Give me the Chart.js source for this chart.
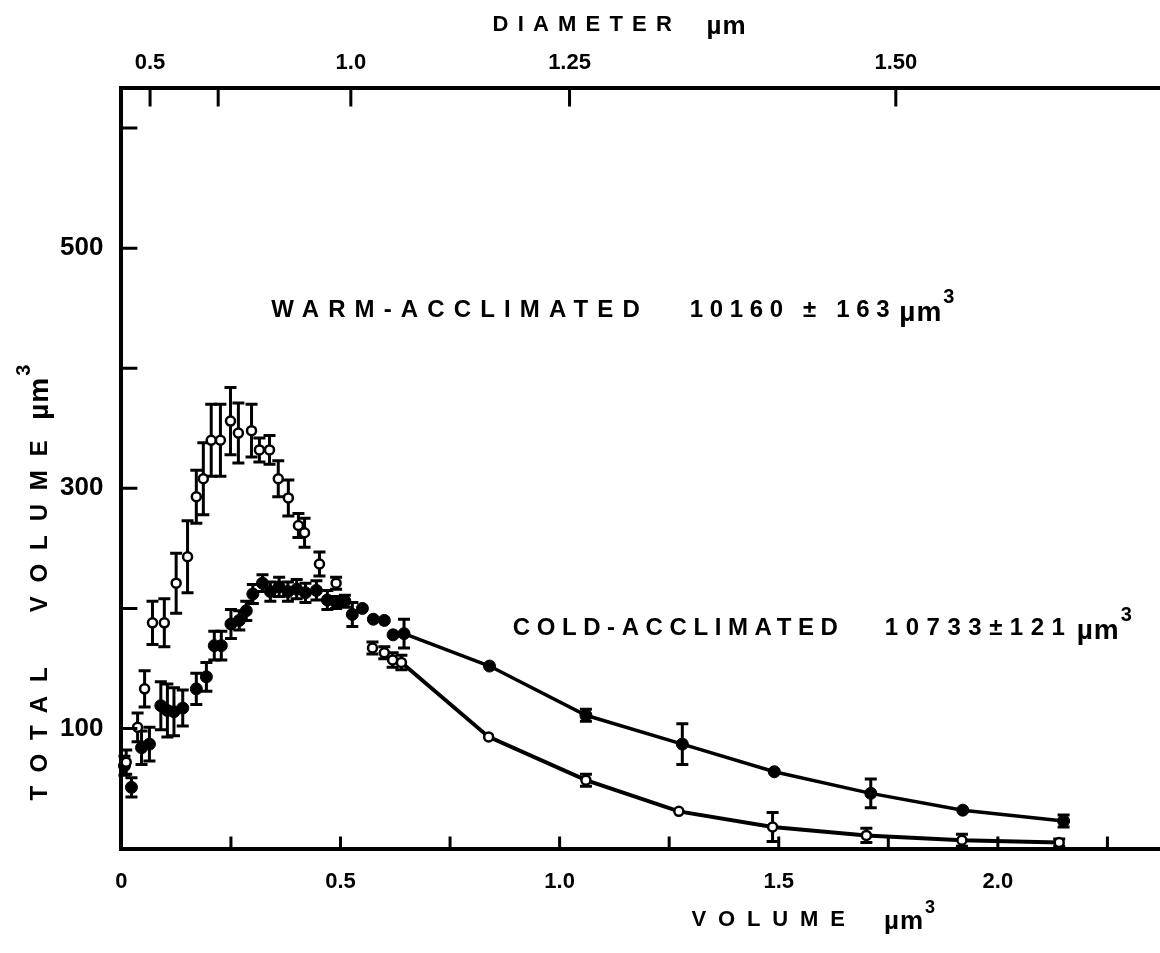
<!DOCTYPE html>
<html>
<head>
<meta charset="utf-8">
<script src="https://cdn.jsdelivr.net/npm/chart.js@4/dist/chart.umd.min.js"></script>
<style>
  html, body { margin: 0; padding: 0; background: #fff; overflow: hidden; }
  #clip { width: 1160px; height: 953px; overflow: hidden; position: relative; }
  #wrap { width: 1180px; height: 953px; position: relative; }
</style>
</head>
<body>
<div id="clip"><div id="wrap"><canvas id="chart"></canvas></div></div>
<script>
// warm-acclimated (open circles): volume µm3, total volume, error
const warmX = [0.011, 0.037, 0.053, 0.071, 0.098, 0.125, 0.151, 0.171, 0.187, 0.205, 0.226, 0.249, 0.267, 0.297,
  0.315, 0.338, 0.358, 0.381, 0.404, 0.418, 0.452, 0.49, 0.573, 0.60, 0.619, 0.639, 0.838, 1.06, 1.272, 1.486, 1.70, 1.918, 2.14]
const warmY = [72, 101, 133, 188, 188, 221, 243, 293, 308, 340, 340, 356, 346, 348,
  332, 332, 308, 292, 269, 263, 237, 221, 167, 163, 157, 155, 93, 57, 31, 18, 11, 7, 5]
const warmErr = [10, 12, 15, 18, 20, 25, 30, 22, 30, 30, 30, 28, 25, 22,
  10, 12, 15, 15, 10, 12, 10, 5, 5, 5, 6, 6, 0, 5, 0, 12, 6, 5, 3]

// cold-acclimated (filled circles)
const coldX = [0.007, 0.023, 0.046, 0.064, 0.09, 0.105, 0.12, 0.14, 0.171, 0.194, 0.212, 0.228, 0.25, 0.269, 0.285,
  0.30, 0.322, 0.34, 0.36, 0.38, 0.40, 0.42, 0.445, 0.47, 0.49, 0.51, 0.527, 0.55, 0.575, 0.60, 0.62, 0.645,
  0.84, 1.06, 1.28, 1.49, 1.71, 1.92, 2.15]
const coldY = [69, 51, 84, 87, 119, 115, 114, 117, 133, 143, 169, 169, 187, 190, 198,
  212, 221, 214, 218, 214, 216, 213, 215, 207, 205, 206, 195, 200, 191, 190, 178, 179,
  152, 111, 87, 64, 46, 32, 23]
const coldErr = [8, 8, 14, 14, 20, 22, 20, 15, 13, 12, 12, 12, 12, 8, 8,
  8, 7, 8, 8, 8, 8, 8, 8, 8, 5, 5, 10, 0, 0, 0, 0, 12,
  0, 5, 17, 0, 12, 0, 5]

// top axis: diameters (µm) and their labels
const diameterTicks = [0.5, 0.75, 1.0, 1.25, 1.5]
const diameterLabels = ["0.5", "", "1.0", "1.25", "1.50"]
const volumeLabels = { 0: "0", 0.5: "0.5", 1: "1.0", 1.5: "1.5", 2: "2.0" }
const yLabels = { 100: "100", 300: "300", 500: "500" }

const lineStart = 0.63
const FONT = "'Liberation Sans', Arial, sans-serif"

const toPoints = (xs, ys) => xs.map((x, i) => ({ x: x, y: ys[i] }))
const sphereVolume = d => Math.PI * d * d * d / 6

const errorBars = {
  id: "errorBars",
  beforeDatasetsDraw(chart) {
    const ctx = chart.ctx
    const y = chart.scales.y
    ctx.save()
    ctx.strokeStyle = "#000"
    chart.data.datasets.forEach((ds, i) => {
      if (!ds.errors) return
      const meta = chart.getDatasetMeta(i)
      meta.data.forEach((pt, j) => {
        const e = ds.errors[j]
        if (!e) return
        const v = ds.data[j].y
        const top = y.getPixelForValue(v + e), bot = y.getPixelForValue(v - e)
        ctx.lineWidth = 3
        ctx.beginPath()
        ctx.moveTo(pt.x, top); ctx.lineTo(pt.x, bot)
        ctx.moveTo(pt.x - 6, top); ctx.lineTo(pt.x + 6, top)
        ctx.moveTo(pt.x - 6, bot); ctx.lineTo(pt.x + 6, bot)
        ctx.stroke()
      })
    })
    ctx.restore()
  }
}

// text spread between two pixel positions
function fitted(ctx, text, p0, p1, pos, size) {
  ctx.font = "bold " + size + "px " + FONT
  ctx.letterSpacing = "0px"
  const natural = ctx.measureText(text).width
  const spacing = Math.max(0, (p1 - p0 - natural) / Math.max(1, text.length - 1))
  ctx.letterSpacing = spacing + "px"
  ctx.fillText(text, p0, pos)
}

// the unit µm with optional superscript 3
function unit(ctx, p0, pos, size, sup) {
  ctx.font = "bold " + size + "px " + FONT
  ctx.letterSpacing = "1px"
  ctx.fillText("\u00b5m", p0, pos)
  const w = ctx.measureText("\u00b5m").width
  if (sup) {
    ctx.font = "bold " + Math.round(size * 0.7) + "px " + FONT
    ctx.letterSpacing = "0px"
    ctx.fillText("3", p0 + w + 1, pos - size * 0.55)
  }
}

// inward tick marks, axis titles and the text labels inside the plot
const decorations = {
  id: "decorations",
  afterDraw(chart) {
    const ctx = chart.ctx
    const x = chart.scales.x, y = chart.scales.y, x2 = chart.scales.x2
    const area = chart.chartArea
    const X = v => x.getPixelForValue(v), Y = v => y.getPixelForValue(v)
    ctx.save()
    ctx.strokeStyle = "#000"
    ctx.lineWidth = 3
    ctx.beginPath()
    for (let v = 0.25; v < x.max; v += 0.25) {
      ctx.moveTo(X(v), area.bottom); ctx.lineTo(X(v), area.bottom - 12)
    }
    for (let v = 100; v < y.max; v += 100) {
      ctx.moveTo(area.left, Y(v)); ctx.lineTo(area.left + 16, Y(v))
    }
    diameterTicks.forEach(d => {
      const px = x2.getPixelForValue(sphereVolume(d))
      ctx.moveTo(px, area.top); ctx.lineTo(px, area.top + 18)
    })
    ctx.stroke()

    ctx.fillStyle = "#000"
    ctx.textBaseline = "middle"
    ctx.textAlign = "left"

    // labels inside the plot
    fitted(ctx, "WARM-ACCLIMATED", X(0.342), X(1.183), Y(448), 24)
    fitted(ctx, "10160 \u00b1 163", X(1.297), X(1.753), Y(448), 24)
    unit(ctx, X(1.775), Y(446), 28, true)
    fitted(ctx, "COLD-ACCLIMATED", X(0.893), X(1.635), Y(183), 24)
    fitted(ctx, "10733\u00b1121", X(1.742), X(2.153), Y(183), 24)
    unit(ctx, X(2.18), Y(181), 28, true)

    // axis titles
    fitted(ctx, "VOLUME", X(1.301), X(1.651), 920, 22)
    unit(ctx, X(1.74), 922, 26, true)
    fitted(ctx, "DIAMETER", X(0.847), X(1.256), 25, 22)
    unit(ctx, X(1.335), 27, 26, false)

    ctx.translate(40, 0)
    ctx.rotate(-Math.PI / 2)
    fitted(ctx, "TOTAL  VOLUME", -Y(40), -Y(340), 0, 24)
    unit(ctx, -Y(357), 0, 28, true)
    ctx.restore()
  }
}

new Chart(document.getElementById("chart"), {
  type: "scatter",
  data: {
    datasets: [
      {
        label: "Warm-acclimated",
        data: toPoints(warmX, warmY),
        errors: warmErr,
        showLine: true,
        clip: false,
        borderColor: "#000",
        borderWidth: 4,
        segment: { borderColor: c => c.p0.parsed.x < lineStart ? "transparent" : "#000" },
        pointStyle: "circle",
        pointRadius: 4.5,
        pointBorderWidth: 2.5,
        pointBackgroundColor: "#fff",
        pointBorderColor: "#000"
      },
      {
        label: "Cold-acclimated",
        data: toPoints(coldX, coldY),
        errors: coldErr,
        showLine: true,
        clip: false,
        borderColor: "#000",
        borderWidth: 3.5,
        segment: { borderColor: c => c.p0.parsed.x < lineStart ? "transparent" : "#000" },
        pointStyle: "circle",
        pointRadius: 6,
        pointBorderWidth: 1,
        pointBackgroundColor: "#000",
        pointBorderColor: "#000"
      }
    ]
  },
  options: {
    responsive: true,
    maintainAspectRatio: false,
    animation: false,
    layout: { padding: { left: 42, right: 0, top: 38, bottom: 38 } },
    plugins: { legend: { display: false }, tooltip: { enabled: false } },
    scales: {
      x: {
        type: "linear",
        position: "bottom",
        min: 0,
        max: 2.37,
        border: { display: true, width: 4, color: "#000" },
        grid: { display: false, drawTicks: false },
        ticks: {
          stepSize: 0.5,
          padding: 20,
          color: "#000",
          font: { family: FONT, size: 22, weight: "bold" },
          callback: v => volumeLabels[v] !== undefined ? volumeLabels[v] : ""
        }
      },
      x2: {
        type: "linear",
        position: "top",
        min: 0,
        max: 2.37,
        border: { display: true, width: 4, color: "#000" },
        grid: { display: false, drawTicks: false },
        afterBuildTicks: s => { s.ticks = diameterTicks.map(d => ({ value: sphereVolume(d) })) },
        ticks: {
          padding: 12,
          color: "#000",
          autoSkip: false,
          maxRotation: 0,
          font: { family: FONT, size: 22, weight: "bold" },
          callback: (v, i) => diameterLabels[i]
        }
      },
      y: {
        type: "linear",
        min: 0,
        max: 633,
        border: { display: true, width: 4, color: "#000" },
        grid: { display: false, drawTicks: false },
        ticks: {
          stepSize: 100,
          padding: 18,
          color: "#000",
          font: { family: FONT, size: 26, weight: "bold" },
          callback: v => yLabels[v] || ""
        }
      }
    }
  },
  plugins: [errorBars, decorations]
})
</script>
</body>
</html>
